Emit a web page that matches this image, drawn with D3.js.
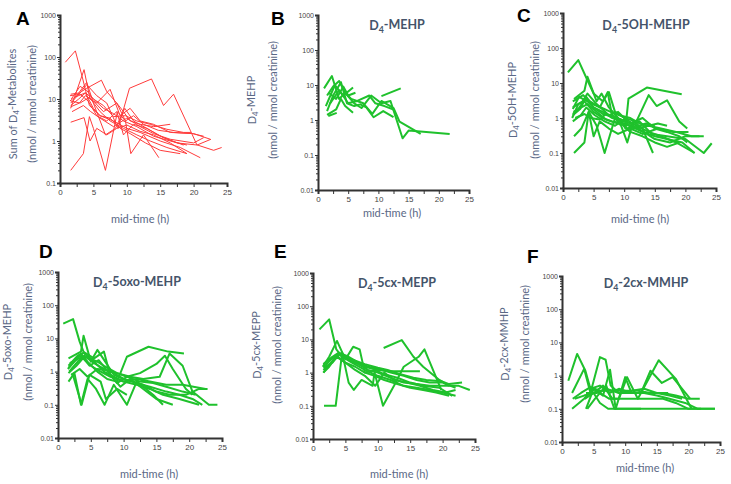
<!DOCTYPE html>
<html>
<head>
<meta charset="utf-8">
<script src="https://cdn.jsdelivr.net/npm/d3@7/dist/d3.min.js"></script>
<style>
  body { margin: 0; background: #fff; }
  .tick text { font-family: 'Liberation Sans', Arial, sans-serif; fill: #444; }
  .lbl { font-family: Lato, 'Open Sans', sans-serif; fill: #5a6886; }
  .ttl { font-family: Lato, 'Open Sans', sans-serif; fill: #44546a; font-weight: 700; }
  .letter { font-family: 'Liberation Sans', Arial, sans-serif; font-weight: 700; fill: #000; }
</style>
</head>
<body>
<svg width="731" height="484"></svg>
<script>
/* global d3 */

// ---- data: each subject is a list of [mid-time (h), value] ----
const sumMetabolites = [
  [[0.8, 75], [2.3, 140], [3.3, 35], [4.4, 7], [6, 4], [8, 3], [10, 2], [12, 1.6], [15, 1], [18, 0.7], [21, 0.4]],
  [[1.6, 0.2], [3.5, 0.5], [4.4, 3.8], [5, 2], [6.8, 0.2], [8.6, 5], [9.8, 3], [10.6, 0.5], [12.5, 1.4], [14.8, 0.4]],
  [[1.6, 2.8], [3.6, 3.6], [4.5, 1], [5.5, 2], [7, 1.4], [8.5, 2], [10, 2.4], [12, 1.7], [14, 1.4], [16.5, 0.9], [19, 0.5]],
  [[1.6, 13], [3, 14], [4, 22], [5.5, 12], [7, 8], [8.7, 2], [10.4, 18], [13.7, 30], [15.5, 7], [17, 13], [19.5, 1.8], [20.5, 0.8], [22.6, 1.1]],
  [[1.6, 6], [3.6, 50], [4.5, 10], [5.5, 8], [7.5, 17], [9, 4], [10.5, 6], [12, 3], [14, 2.5], [16.5, 1.6], [19.8, 1.5], [21.5, 1.3]],
  [[1.6, 8], [3.2, 15], [4, 18], [6.2, 28], [7, 15], [8.5, 8], [9.8, 3], [11, 4], [12.5, 2.5], [14.7, 1.8], [17, 1.6], [20, 1.5], [22.5, 1.1]],
  [[1.6, 7], [2.8, 10], [3.8, 14], [5, 6], [6, 4], [7.5, 3.5], [9, 2], [10.5, 1.5], [12.8, 0.9], [15, 0.6], [18, 0.5]],
  [[1.5, 12], [3, 13], [4.2, 9], [5.5, 4], [7, 3], [8.5, 5], [9.5, 1.4], [11, 2.5], [13, 2], [15, 1.3], [17.5, 0.9], [20.6, 0.8], [23, 0.6], [24.2, 0.7]],
  [[1.7, 10], [3, 20], [4, 16], [5, 10], [6.5, 6], [8, 4.5], [9.5, 3], [11.5, 2.2], [14, 1.3], [16.5, 1], [19, 0.8]],
  [[1.5, 9], [2.5, 12], [4, 25], [5, 8], [6.8, 1.4], [8.3, 2], [9.7, 6], [11, 3], [13, 2], [15.5, 1.2], [18.5, 0.8]],
  [[1.8, 5], [3.5, 7], [4.6, 5], [6, 3.5], [8, 2.2], [10, 3.5], [12, 2.2], [14, 1.5], [16.5, 1.1], [20, 0.9], [21.5, 1.2]],
  [[1.6, 6.5], [2.9, 8], [3.8, 12], [5, 9], [6.5, 5], [8.5, 8], [9.5, 5], [10.5, 3], [12, 2.5], [14, 2.2], [16.5, 2.5]],
  [[1.6, 9], [3, 8], [4.4, 11], [6, 5], [7.5, 3], [9.5, 2], [11.5, 1.4], [13.5, 1], [16, 0.7], [19, 0.5]],
  [[2.2, 11], [3.8, 14], [5, 10], [6.5, 7], [8, 3.8], [9.8, 4], [11.5, 3], [13.5, 2.5], [16, 1.9], [18.5, 1.6], [19.6, 1.6]]
]

const mehp = [
  [[1, 8], [2.3, 18], [3.5, 4], [4.5, 6], [6, 3], [7.2, 2.2], [8.8, 5], [10.5, 3], [12, 3.5], [14, 0.3], [15, 0.5], [21.8, 0.4]],
  [[1.5, 5], [2.5, 9], [3.5, 13], [4.5, 6], [5.5, 4], [7.5, 3], [9, 1.5], [10.5, 3.5], [12.5, 2.2], [13.5, 0.9], [17, 0.4]],
  [[1.5, 1.8], [2.5, 5], [3.8, 12], [4.8, 3], [6, 2.5], [7, 2.8], [8, 2.3], [9.2, 1.2], [10.8, 1.8], [12.5, 1.2]],
  [[1.5, 1.4], [3, 2], [3.8, 4], [4.5, 2.5], [5.8, 1.6]],
  [[1.7, 1.3], [3.1, 1.6]],
  [[10.5, 4.8], [13.7, 8]],
  [[1.8, 6], [3, 4], [4.2, 9], [5, 5], [6.2, 6]],
  [[2, 3], [3.5, 7], [4.2, 5], [5.8, 8.5]],
  [[1.3, 2.5], [2.8, 10], [3.8, 6], [5, 3], [6.5, 3.5], [8.5, 5], [9.5, 3], [11, 2.5], [12.5, 2]]
]

const oh_mehp = [
  [[0.8, 20], [2.5, 45], [3.9, 13], [5, 5], [6.5, 3], [7.5, 5.5], [8.5, 1.5], [10, 1], [12, 0.6], [14, 0.4], [16, 0.3], [18.5, 0.2], [21.5, 0.1]],
  [[1.8, 3.5], [3.5, 6], [4, 15], [5.5, 3], [6.3, 5], [7.5, 2], [9, 1], [10.5, 0.5], [12.5, 0.8], [14.5, 0.35], [17, 0.3], [20, 0.25], [23, 0.1], [24.3, 0.19]],
  [[1.8, 0.1], [3.5, 0.2], [4.2, 1.5], [5.5, 0.6], [6.8, 0.1], [8.5, 1], [9.5, 0.6], [10.5, 0.2], [11.5, 0.8], [13, 0.5], [14.7, 0.1]],
  [[1.6, 1.2], [2.8, 1.8], [3.8, 4], [5, 2], [6.5, 1.3], [8, 1.1], [9.5, 0.9], [10.2, 0.5], [10.7, 3.6], [13.7, 7.4], [19.4, 4.8]],
  [[1.6, 2], [3.2, 3], [4, 5], [5.5, 2.5], [7.5, 1.2], [9, 1.5], [10, 1], [12, 0.8], [14, 4.5], [15.3, 2.2], [17, 3.2], [19, 0.8], [20.3, 0.5]],
  [[1.5, 1], [2.5, 2.5], [3.5, 3], [5, 1.5], [6.5, 1], [8, 0.8], [10, 0.7], [12, 0.5], [14, 0.6], [16, 0.5], [18.5, 0.4], [21, 0.3], [23, 0.3]],
  [[1.7, 1.5], [3, 2], [4, 2.5], [5.5, 1.5], [7, 0.9], [9, 0.7], [11, 0.6], [13, 0.4], [15, 0.3], [17, 0.25], [19.5, 0.2], [21.5, 0.1]],
  [[1.6, 1.8], [2.6, 4], [4, 3], [5, 2], [6.5, 1.5], [8, 1], [9.5, 0.9], [11, 0.7], [13, 1], [15, 0.5], [17, 0.4], [19, 0.3], [20.3, 0.2]],
  [[1.8, 0.3], [3, 0.5], [4.2, 1.5], [5, 0.3], [6, 0.8], [7.5, 0.5], [9, 0.35], [11, 0.5], [13, 0.35], [15.5, 0.5], [18, 0.4], [20.5, 0.4]],
  [[1.6, 0.8], [2.9, 1.2], [3.8, 2], [5.2, 1.2], [6.8, 0.8], [8.5, 0.6], [10, 0.9], [11.5, 0.6], [13.2, 0.4], [15, 0.25], [17.5, 0.2], [20, 0.3], [22.3, 0.3]],
  [[1.6, 1.3], [2.5, 1.8], [3.6, 3.5], [4.8, 2.5], [6.2, 2], [7.8, 1.5], [9.2, 1.2], [11, 1], [12.5, 0.7], [14, 0.6], [15.5, 0.7], [17, 0.6]],
  [[1.6, 3], [3.3, 4.5], [4.4, 3], [6, 2], [7.3, 5.5], [8, 1.2], [9.5, 0.7], [11, 0.4], [13, 0.3], [15, 0.2], [17, 0.15], [19, 0.2]],
  [[2, 1], [3.5, 1.3], [4.5, 1], [6, 0.9], [7, 1.3], [8.5, 1.1], [10, 0.8], [11.5, 0.5], [13.5, 0.7], [15, 0.6]]
]

const oxo_mehp = [
  [[0.8, 28], [2.3, 38], [3.3, 8], [4, 3.5], [5.5, 2], [7, 1], [8.5, 0.7], [10, 0.5], [12, 0.4], [14, 0.3], [16, 0.2], [18.5, 0.15], [21.5, 0.1]],
  [[1.6, 2.5], [3.5, 4], [3.9, 12], [5, 2], [6, 4.5], [7.2, 2], [8.5, 0.8], [10, 0.6], [11.5, 0.5], [13, 0.4], [15, 0.25], [17, 0.2], [19.5, 0.2], [21.5, 0.3], [22.8, 0.3]],
  [[1.6, 0.5], [2.5, 0.9], [3.5, 0.1], [4.5, 0.6], [5.8, 0.3], [7.1, 0.1], [8.5, 0.4], [10.5, 0.1], [12, 0.5], [14.5, 0.2], [16, 0.1]],
  [[1.5, 1.2], [2.5, 2], [3.5, 3.5], [4.5, 2], [6, 1], [7.5, 0.6], [9, 0.5], [10.5, 2.8], [13.8, 5.6], [16.8, 4], [19.2, 3.5]],
  [[1.6, 1.5], [3, 3], [4, 3.8], [5.5, 2.5], [7, 4], [7.8, 1], [9, 0.9], [10.5, 0.7], [12.5, 0.9], [15, 1.7], [16.3, 3], [17.5, 1.2], [19.5, 0.3], [20.5, 0.2]],
  [[1.6, 0.9], [2.8, 1.5], [3.8, 2.5], [5, 1.5], [6.5, 1], [8, 0.7], [10, 0.5], [12, 0.6], [14, 0.5], [16.5, 0.4], [19, 0.4], [22.5, 0.3]],
  [[1.7, 1], [3, 2], [4, 3], [5.5, 1.8], [7, 1.2], [8.5, 0.9], [10, 0.6], [12, 0.45], [14, 0.35], [16.5, 0.25], [18.5, 0.2], [20.5, 0.15], [22, 0.1]],
  [[1.8, 1.8], [3.2, 2.5], [4.2, 2.8], [6, 2], [7, 1.5], [9, 0.9], [11, 0.7], [13, 0.6], [15.5, 0.7], [17, 3.5], [19, 1.5], [20.5, 0.25], [23, 0.1], [24.3, 0.1]],
  [[1.6, 1.3], [2.9, 2.6], [3.6, 3], [4.8, 1.5], [6.2, 2.2], [8, 0.8], [9.5, 0.35], [11, 0.6], [13, 0.3], [15, 0.15], [17.5, 0.1]],
  [[2, 0.8], [3.3, 1.2], [4.5, 0.7], [6, 1.2], [7.5, 1.1], [9, 0.45], [10.5, 0.7], [12.5, 0.5], [14.5, 0.45], [16.5, 0.35], [19, 0.25], [21, 0.2]],
  [[2.2, 0.9], [3.6, 0.1], [4.8, 0.8], [6.5, 0.5], [7.3, 0.15], [9, 0.3], [10.5, 0.2]]
]

const cx_mepp = [
  [[1, 20], [2.5, 40], [3.6, 5], [4.5, 3], [6, 2], [8, 1.2], [10, 0.8], [12, 0.6], [14, 0.4], [16, 0.35], [18, 0.3], [20, 0.25], [22, 0.2]],
  [[1.7, 0.1], [3.5, 0.1], [4.5, 4], [5.5, 0.5], [6.3, 0.3], [7.5, 0.6], [9.2, 0.4], [9.5, 1], [10.8, 0.1], [12.5, 0.4], [14, 1.5], [16.3, 3], [17.2, 5], [19.8, 0.3]],
  [[1.5, 1.5], [2.5, 3], [3.7, 9], [5, 2.5], [6.2, 6], [7.2, 5], [8, 1], [9.5, 1.2], [11, 0.9], [13, 0.7], [15, 0.5], [17, 0.4], [19.5, 0.35], [21.5, 0.2]],
  [[1.6, 1], [3.2, 2.5], [4.2, 3.5], [5.5, 2.5], [7, 1.8], [8.5, 1.2], [10, 1], [12, 0.7], [14, 0.5], [16, 0.45], [18, 0.4], [20.5, 0.4], [22.5, 0.4], [24.2, 0.3]],
  [[1.6, 1.8], [3, 3], [4, 4], [5.5, 3], [7, 2], [8.5, 1.5], [10, 1.3], [12, 1], [14, 0.8], [16, 0.6], [18, 0.5], [20, 0.5], [22, 0.35]],
  [[1.6, 1.2], [2.8, 2], [3.8, 3], [5, 2], [6.5, 1.5], [8, 1], [9.5, 0.8], [11, 0.6], [13, 0.45], [15, 0.35], [17, 0.3], [19, 0.25], [21, 0.2]],
  [[10.9, 5.5], [13.7, 9.5], [15.5, 3], [17, 1.5], [19.5, 0.6], [21, 0.4]],
  [[1.6, 1.4], [3, 2], [4, 3.5], [5, 2.8], [6.5, 2], [8, 1.5], [10, 1.2], [12, 1.1], [14, 1.1], [16.5, 1.1]],
  [[1.6, 1], [2.5, 1.5], [3.6, 3], [5, 2], [6.5, 1.2], [8, 0.8], [9.6, 0.4], [11, 1], [12.5, 0.6], [14.5, 0.5], [16.5, 0.4], [18.5, 0.3], [20.5, 0.25], [22, 0.3]],
  [[1.7, 1.5], [2.8, 2.5], [4, 3.8], [6, 2.5], [8, 1.8], [10, 1.4], [11.5, 1.2], [13.5, 0.9], [15.5, 0.7], [17.5, 0.6], [19.8, 0.55], [21, 0.45], [23, 0.5]]
]

const cx_mmhp = [
  [[1, 0.7], [2.4, 4.5], [3.7, 1.4], [4.5, 0.4], [6, 0.5], [7.5, 0.3], [9, 0.4], [11, 0.3], [13, 0.3], [15, 0.25], [17, 0.2], [19.5, 0.15], [21.5, 0.1], [24.2, 0.1]],
  [[1.6, 0.3], [3.5, 1.6], [4.5, 0.3], [6, 3.6], [6.9, 3], [7.7, 0.5], [9, 0.3], [10.5, 0.3], [12, 0.3], [14, 0.3], [16.8, 0.3]],
  [[1.6, 0.1], [3.5, 0.2], [5, 0.4], [6.5, 0.25], [7.6, 1.5], [8.5, 0.1], [10, 0.9], [11, 0.3], [12.5, 0.3], [14, 1.4], [15.8, 0.6], [17.5, 0.9], [20.3, 0.2]],
  [[3.8, 0.1], [5, 0.4], [6, 0.3], [7.5, 0.2], [9, 0.2], [10.3, 0.9], [12, 0.2], [15.3, 2.9], [18, 0.8], [20.5, 0.1]],
  [[3.6, 0.2], [5, 0.3], [6, 0.15], [7.3, 0.1], [10, 0.1], [15, 0.1], [20, 0.1], [24.2, 0.1]],
  [[1.7, 0.2], [3, 0.3], [4.5, 0.45], [6, 0.35], [8, 0.35], [10, 0.35], [12, 0.35], [14, 0.3], [16, 0.3], [18, 0.25], [20, 0.2], [21.8, 0.2]],
  [[2, 0.2], [3.5, 0.25], [5, 0.3], [6.5, 0.5], [8, 0.2], [10, 0.2], [12, 0.2], [14, 0.2], [16, 0.2], [18, 0.15], [20, 0.1], [22, 0.1]],
  [[4, 0.1], [5.2, 0.2], [7, 0.5], [8.3, 0.1], [11, 0.1], [12.5, 0.1]],
  [[3.8, 0.3], [5.5, 0.3], [7, 0.4], [9, 0.3], [11, 0.35], [13, 0.4], [15, 0.3], [17, 0.25], [19, 0.2]]
]

const xTicks = [0, 2.5, 5, 7.5, 10, 12.5, 15, 17.5, 20, 22.5, 25]
const decadeTicks = [0.01, 0.1, 1, 10, 100, 1000]

// ---- layout of the six panels ----
const panels = [
  { letter: 'A', lx: 16, ly: 25, data: sumMetabolites, color: '#ff3b3b', width: 1, yMin: 0.1,
    left: 60, right: 227, top: 15, bottom: 183, title: null,
    yName: ['Sum of D', '4', '-Metabolites'], yl1: 13, yl2: 32, yc: 104, xl: 140, xly: 223 },
  { letter: 'B', lx: 271, ly: 25, data: mehp, color: '#1fc12c', width: 2, yMin: 0.01,
    left: 318, right: 469, top: 15, bottom: 190, title: ['D', '4', '-MEHP'], tx: 397, ty: 30,
    yName: ['D', '4', '-MEHP'], yl1: 252, yl2: 273, yc: 100, xl: 392, xly: 217 },
  { letter: 'C', lx: 517, ly: 22, data: oh_mehp, color: '#1fc12c', width: 2, yMin: 0.01,
    left: 563, right: 716, top: 13, bottom: 188, title: ['D', '4', '-5OH-MEHP'], tx: 646, ty: 30,
    yName: ['D', '4', '-5OH-MEHP'], yl1: 513, yl2: 535, yc: 100, xl: 640, xly: 223 },
  { letter: 'D', lx: 39, ly: 258, data: oxo_mehp, color: '#1fc12c', width: 2, yMin: 0.01,
    left: 58, right: 222, top: 272, bottom: 438, title: ['D', '4', '-5oxo-MEHP'], tx: 137, ty: 287,
    yName: ['D', '4', '-5oxo-MEHP'], yl1: 8, yl2: 28, yc: 342, xl: 149, xly: 478 },
  { letter: 'E', lx: 274, ly: 258, data: cx_mepp, color: '#1fc12c', width: 2, yMin: 0.01,
    left: 313, right: 475, top: 273, bottom: 439, title: ['D', '4', '-5cx-MEPP'], tx: 397, ty: 288,
    yName: ['D', '4', '-5cx-MEPP'], yl1: 257, yl2: 277, yc: 345, xl: 399, xly: 478 },
  { letter: 'F', lx: 527, ly: 263, data: cx_mmhp, color: '#1fc12c', width: 2, yMin: 0.01,
    left: 562, right: 720, top: 276, bottom: 442, title: ['D', '4', '-2cx-MMHP'], tx: 646, ty: 288,
    yName: ['D', '4', '-2cx-MMHP'], yl1: 505, yl2: 525, yc: 344, xl: 645, xly: 472 }
]

const svg = d3.select('svg')

// text with a subscript "4"
const subText = (sel, parts) => {
  sel.append('tspan').text(parts[0])
  sel.append('tspan').attr('font-size', '70%').attr('dy', '0.3em').text(parts[1])
  sel.append('tspan').attr('dy', '-0.3em').text(parts[2])
}

const minorTicks = (yMin) => {
  const out = []
  for (let d = yMin; d < 1000; d *= 10) {
    for (let k = 2; k <= 9; k++) out.push(+(d * k).toPrecision(3))
  }
  return out
}

panels.forEach(p => {
  const g = svg.append('g')

  const x = d3.scaleLinear().domain([0, 25]).range([p.left, p.right])
  const y = d3.scaleLog().domain([p.yMin, 1000]).range([p.bottom, p.top])

  // lines
  const line = d3.line().x(d => x(d[0])).y(d => y(d[1]))
  g.selectAll('path.subject')
    .data(p.data)
    .enter()
    .append('path')
    .attr('class', 'subject')
    .attr('d', line)
    .attr('fill', 'none')
    .attr('stroke', p.color)
    .attr('stroke-width', p.width)
    .attr('stroke-linejoin', 'round')

  // y axis: decades + minor log ticks
  const yMajor = d3.axisLeft(y)
    .tickValues(decadeTicks.filter(v => v >= p.yMin))
    .tickFormat(d => String(d))
    .tickSize(3)
    .tickPadding(1)
  const yAx = g.append('g').attr('transform', `translate(${p.left},0)`).call(yMajor)
  yAx.selectAll('text').style('font-size', '7px')
  g.append('g').attr('transform', `translate(${p.left},0)`)
    .call(d3.axisLeft(y).tickValues(minorTicks(p.yMin)).tickFormat('').tickSize(2))
    .select('.domain').remove()

  // x axis
  const xAxis = d3.axisBottom(x)
    .tickValues(xTicks)
    .tickFormat(d => d % 5 === 0 ? d : '')
    .tickSize(4)
    .tickPadding(2)
  const xAx = g.append('g').attr('transform', `translate(0,${p.bottom})`).call(xAxis)
  xAx.selectAll('text').style('font-size', '8px')

  g.selectAll('.domain').attr('stroke', '#333').attr('stroke-width', 2)
  g.selectAll('.tick line').attr('stroke', '#333')

  // panel letter
  g.append('text').attr('class', 'letter')
    .attr('x', p.lx).attr('y', p.ly)
    .style('font-size', '19px')
    .text(p.letter)

  // title
  if (p.title) {
    const t = g.append('text').attr('class', 'ttl')
      .attr('x', p.tx).attr('y', p.ty)
      .attr('text-anchor', 'middle')
      .style('font-size', '12.5px')
    subText(t, p.title)
  }

  // y labels (two rotated lines)
  const y1 = g.append('text').attr('class', 'lbl')
    .attr('transform', `translate(${p.yl1 + 4},${p.yc})rotate(-90)`)
    .attr('text-anchor', 'middle')
    .style('font-size', '11px')
  subText(y1, p.yName)
  g.append('text').attr('class', 'lbl')
    .attr('transform', `translate(${p.yl2 + 4},${p.yc})rotate(-90)`)
    .attr('text-anchor', 'middle')
    .style('font-size', '11px')
    .text('(nmol / mmol creatinine)')

  // x label
  g.append('text').attr('class', 'lbl')
    .attr('x', p.xl).attr('y', p.xly)
    .attr('text-anchor', 'middle')
    .style('font-size', '11px')
    .text('mid-time (h)')
})
</script>
</body>
</html>
